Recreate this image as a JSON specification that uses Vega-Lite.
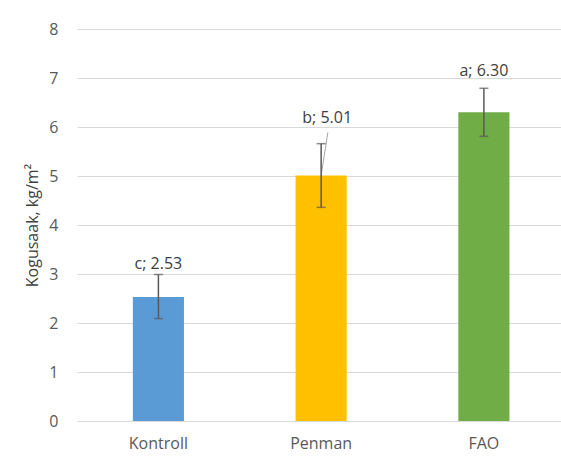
{
  "$schema": "https://vega.github.io/schema/vega-lite/v6.json",
  "width": 484,
  "height": 392,
  "autosize": {"type": "none"},
  "padding": {"left": 77, "top": 29, "right": 0, "bottom": 37},
  "background": "white",
  "config": {"view": {"stroke": null}, "font": "Open Sans"},
  "data": {
    "values": [
      {"group": "Kontroll", "value": 2.53, "lower": 2.09, "upper": 2.99, "label": "c; 2.53"},
      {"group": "Penman", "value": 5.01, "lower": 4.36, "upper": 5.66, "label": "b; 5.01"},
      {"group": "FAO", "value": 6.30, "lower": 5.81, "upper": 6.79, "label": "a; 6.30"}
    ]
  },
  "encoding": {
    "x": {
      "field": "group",
      "type": "nominal",
      "sort": null,
      "scale": {"paddingInner": 0.686, "paddingOuter": 0.33, "align": 0.52},
      "axis": {
        "title": null,
        "labelAngle": 0,
        "domain": false,
        "ticks": false,
        "labelPadding": 14,
        "labelFontSize": 16,
        "labelColor": "#595959"
      }
    }
  },
  "layer": [
    {
      "mark": {"type": "bar"},
      "encoding": {
        "y": {
          "field": "value",
          "type": "quantitative",
          "scale": {"domain": [0, 8]},
          "axis": {
            "title": "Kogusaak, kg/m²",
            "values": [0, 1, 2, 3, 4, 5, 6, 7, 8],
            "domain": false,
            "ticks": false,
            "grid": true,
            "gridColor": "#d9d9d9",
            "gridWidth": 1,
            "labelPadding": 19,
            "labelFontSize": 16,
            "labelColor": "#595959",
            "titleFontSize": 16,
            "titleFontWeight": "normal",
            "titleColor": "#404040",
            "titlePadding": 8
          }
        },
        "color": {
          "field": "group",
          "type": "nominal",
          "scale": {"domain": ["Kontroll", "Penman", "FAO"], "range": ["#5B9BD5", "#FFC000", "#70AD47"]},
          "legend": null
        }
      }
    },
    {
      "transform": [{"filter": "datum.group === 'Penman'"}],
      "mark": {"type": "rule", "color": "#a6a6a6", "strokeWidth": 1, "x2Offset": 6.7, "y2Offset": -11.3},
      "encoding": {
        "y": {"field": "value", "type": "quantitative"},
        "y2": {"field": "upper"},
        "x2": {"field": "group"}
      }
    },
    {
      "mark": {"type": "rule", "color": "#595959", "strokeWidth": 1.5},
      "encoding": {
        "y": {"field": "lower", "type": "quantitative"},
        "y2": {"field": "upper"}
      }
    },
    {
      "mark": {"type": "tick", "color": "#595959", "thickness": 1.5, "size": 9, "orient": "horizontal"},
      "encoding": {"y": {"field": "lower", "type": "quantitative"}}
    },
    {
      "mark": {"type": "tick", "color": "#595959", "thickness": 1.5, "size": 9, "orient": "horizontal"},
      "encoding": {"y": {"field": "upper", "type": "quantitative"}}
    },
    {
      "transform": [{"filter": "datum.group === 'Kontroll'"}],
      "mark": {"type": "text", "baseline": "alphabetic", "dy": -5.5, "fontSize": 16, "color": "#404040"},
      "encoding": {"y": {"field": "upper", "type": "quantitative"}, "text": {"field": "label"}}
    },
    {
      "transform": [{"filter": "datum.group === 'Penman'"}],
      "mark": {"type": "text", "baseline": "alphabetic", "dy": -20.7, "dx": 6, "fontSize": 16, "color": "#404040"},
      "encoding": {"y": {"field": "upper", "type": "quantitative"}, "text": {"field": "label"}}
    },
    {
      "transform": [{"filter": "datum.group === 'FAO'"}],
      "mark": {"type": "text", "baseline": "alphabetic", "dy": -12, "fontSize": 16, "color": "#404040"},
      "encoding": {"y": {"field": "upper", "type": "quantitative"}, "text": {"field": "label"}}
    }
  ]
}
